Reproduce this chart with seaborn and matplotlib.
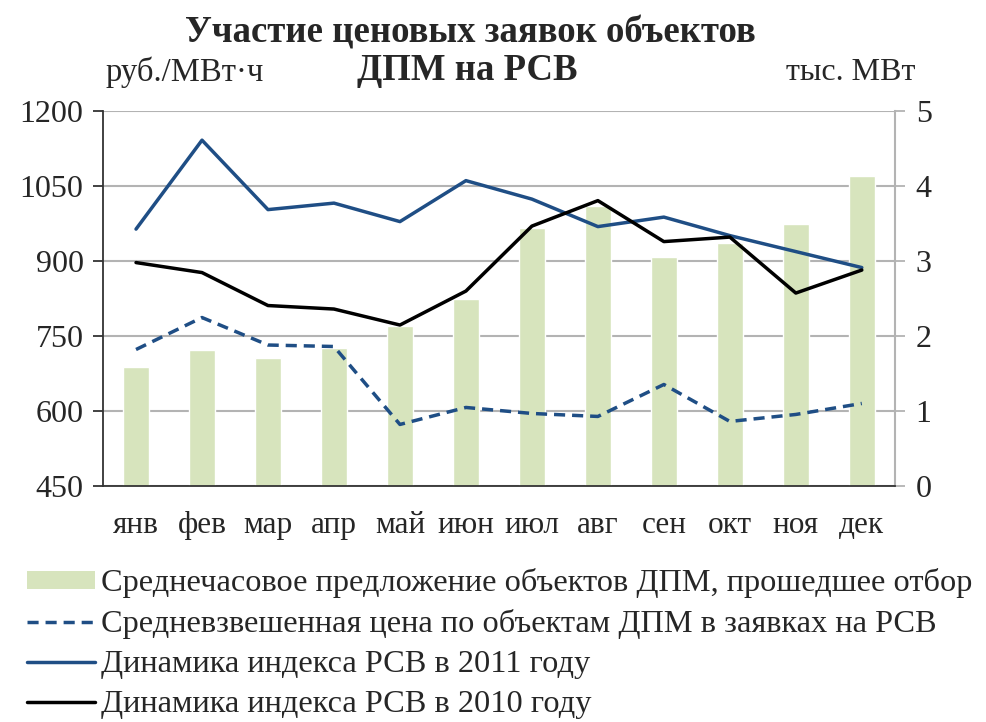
import numpy as np
import pandas as pd
import matplotlib
matplotlib.use("Agg")
import matplotlib.pyplot as plt
import seaborn as sns
from matplotlib.patches import Patch
from matplotlib.lines import Line2D

meses = ['янв', 'фев', 'мар', 'апр', 'май', 'июн', 'июл', 'авг', 'сен', 'окт', 'ноя', 'дек']
# тыс. МВт (правая ось)
predlozhenie = [1.58, 1.82, 1.71, 1.84, 2.14, 2.50, 3.44, 3.73, 3.05, 3.24, 3.50, 4.14]
# руб./МВт·ч (левая ось)
cena_dpm = [723, 787, 732, 729, 573, 607, 595, 589, 653, 579, 593, 615]
indeks_2011 = [964, 1142, 1003, 1016, 979, 1061, 1024, 969, 988, 951, 919, 887]
indeks_2010 = [897, 877, 811, 804, 772, 840, 970, 1021, 939, 948, 836, 882]

etiquetas = ['Среднечасовое предложение объектов ДПМ, прошедшее отбор',
             'Средневзвешенная цена по объектам ДПМ в заявках на РСВ',
             'Динамика индекса РСВ в 2011 году',
             'Динамика индекса РСВ в 2010 году']

df = pd.DataFrame({'mes': meses, 'pred': predlozhenie, 'cena': cena_dpm,
                   'i2011': indeks_2011, 'i2010': indeks_2010})
df['pos'] = np.arange(len(df))

sns.set_style('white')
plt.rcParams['font.family'] = ['Liberation Serif', 'DejaVu Serif']

verde = '#D7E4BD'
azul = '#1F4E85'
gris = '#B3B3B3'

fig = plt.figure(figsize=(9.86, 7.22), dpi=100)
ax = fig.add_axes([0.1045, 0.327, 0.803, 0.519])
ax2 = ax.twinx()

# barras en el eje derecho
sns.barplot(data=df, x='pos', y='pred', ax=ax2, color=verde, width=0.4,
            saturation=1, native_scale=True)
ax2.set_ylim(0, 5)
ax2.set_yticks(range(0, 6))
ax2.grid(axis='y', color=gris, linewidth=1.5)
ax2.set_axisbelow(True)

# lineas en el eje izquierdo
sns.lineplot(data=df, x='pos', y='cena', ax=ax, color=azul, linewidth=2.5,
             linestyle=(0, (3.2, 2)))
sns.lineplot(data=df, x='pos', y='i2011', ax=ax, color=azul, linewidth=2.5)
sns.lineplot(data=df, x='pos', y='i2010', ax=ax, color='black', linewidth=2.5)
ax.set_zorder(ax2.get_zorder() + 1)
ax.patch.set_visible(False)

ax.set_ylim(450, 1200)
ax.set_yticks(range(450, 1201, 150))
ax.set_xlim(-0.5, 11.5)
ax.set_xticks(df['pos'])
ax.set_xticklabels(meses)
ax.set_xticks(np.arange(-0.5, 12, 1), minor=True)
ax.tick_params(axis='x', which='major', length=0, pad=18, labelsize=22.5)
ax.tick_params(axis='x', which='minor', length=7, width=1.3, color='#333333', direction='out')
ax.tick_params(axis='y', length=7, width=1.3, color='#333333', direction='out', labelsize=23, pad=7)
ax2.tick_params(axis='y', length=7, width=1.3, color=gris, direction='out', labelsize=23, pad=8)
ax.set_xlabel('')
ax.set_ylabel('')
ax2.set_xlabel('')
ax2.set_ylabel('')

for s in ['top']:
    ax.spines[s].set_visible(False)
    ax2.spines[s].set_visible(False)
ax.spines['left'].set_color('#333333')
ax.spines['left'].set_linewidth(1.3)
ax.spines['bottom'].set_color('#333333')
ax.spines['bottom'].set_linewidth(1.3)
ax.spines['right'].set_visible(False)
ax2.spines['left'].set_visible(False)
ax2.spines['bottom'].set_visible(False)
ax2.spines['right'].set_color(gris)
ax2.spines['right'].set_linewidth(1.5)

fig.text(0.477, 0.954, 'Участие ценовых заявок объектов', ha='center', va='center',
         fontsize=26.5, fontweight='bold')
fig.text(0.474, 0.902, 'ДПМ на РСВ', ha='center', va='center',
         fontsize=26.5, fontweight='bold')
fig.text(0.107, 0.900, 'руб./МВт·ч', ha='left', va='center', fontsize=23.5)
fig.text(0.928, 0.900, 'тыс. МВт', ha='right', va='center', fontsize=23)

handles = [Patch(facecolor=verde, edgecolor='none'),
           Line2D([], [], color=azul, linewidth=2.5, linestyle=(0, (3.2, 2))),
           Line2D([], [], color=azul, linewidth=2.5),
           Line2D([], [], color='black', linewidth=2.5)]
fig.legend(handles, etiquetas, loc='upper left', bbox_to_anchor=(0.027, 0.213),
           frameon=False, fontsize=23.3, handlelength=2.1, handleheight=0.5,
           handletextpad=0.2, labelspacing=0.34, borderaxespad=0, borderpad=0)

fig.savefig('out.png', dpi=100)
